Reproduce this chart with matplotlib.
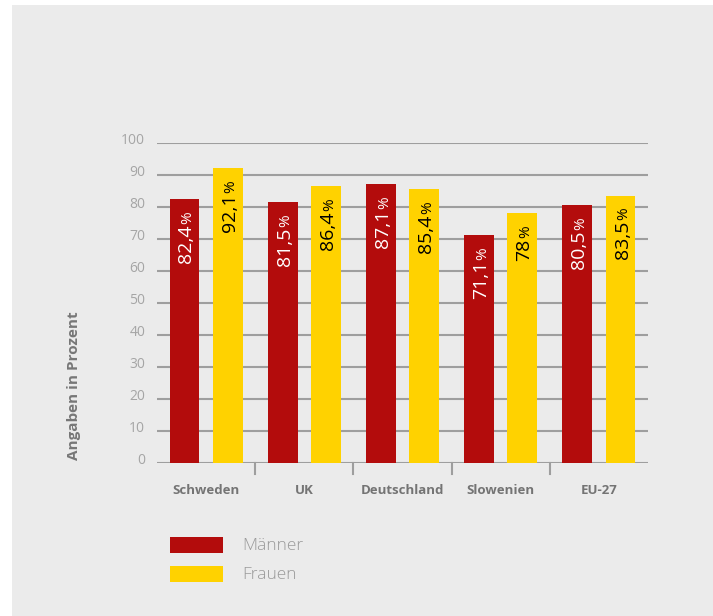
import matplotlib.pyplot as plt
import matplotlib.transforms as mtransforms
from matplotlib.patches import Rectangle
import numpy as np

countries = ["Schweden", "UK", "Deutschland", "Slowenien", "EU-27"]
maenner = [82.4, 81.5, 87.1, 71.1, 80.5]
frauen = [92.1, 86.4, 85.4, 78, 83.5]
series_names = ["Männer", "Frauen"]
yticks = [0, 10, 20, 30, 40, 50, 60, 70, 80, 90, 100]

RED = "#b30c0c"
YELLOW = "#ffd200"
BG = "#ebebeb"
FONT = "Open Sans"

plt.rcParams["font.family"] = [FONT, "DejaVu Sans"]

fig = plt.figure(figsize=(7.13, 6.16), dpi=100, facecolor="white")
# gray panel behind everything
fig.patches.append(Rectangle((12 / 713, 0), 1, 1 - 5 / 616, transform=fig.transFigure,
                             facecolor=BG, edgecolor="none", zorder=-10))

ax = fig.add_axes([157 / 713, 1 - 463 / 616, 491 / 713, (463 - 142.7) / 616])
ax.set_facecolor("none")
ax.set_xlim(0, len(countries))
ax.set_ylim(0, 100)

x = np.arange(len(countries)) + 0.5
w = 0.305
off = 0.22
ax.bar(x - off, maenner, width=w, color=RED, zorder=3)
ax.bar(x + off, frauen, width=w, color=YELLOW, zorder=3)

for v in yticks:
    ax.axhline(v, color="#9e9e9e", lw=1.5, zorder=1)

# separators between the country groups
for s in np.arange(1, len(countries)):
    ax.plot([s, s], [0, -0.034], transform=ax.get_xaxis_transform(), color="#9e9e9e",
            lw=1.5, clip_on=False)

for sp in ax.spines.values():
    sp.set_visible(False)
ax.set_xticks(x)
ax.set_xticklabels(countries, fontsize=9.5, fontweight="bold", color="#747474")
ax.tick_params(axis="x", length=0, pad=15)
ax.set_yticks(yticks)
ax.set_yticklabels([str(t) for t in yticks], fontsize=10, color="#a5a5a5")
ax.tick_params(axis="y", length=0, pad=8.5)
shift = mtransforms.ScaledTranslation(0, 4 / 100, fig.dpi_scale_trans)
for lab in ax.get_yticklabels():
    lab.set_transform(lab.get_transform() + shift)

# value labels inside the bars, with a smaller percent sign
def label_bar(xpos, val, color):
    txt = f"{val:g}".replace(".", ",")
    ax.annotate("%", xy=(xpos, val), xytext=(7 * 0.72, -12 * 0.72), textcoords="offset points",
                rotation=90, rotation_mode="anchor", ha="right", va="baseline",
                fontsize=11, color=color, zorder=4)
    ax.annotate(txt, xy=(xpos, val), xytext=(7 * 0.72, -25.5 * 0.72), textcoords="offset points",
                rotation=90, rotation_mode="anchor", ha="right", va="baseline",
                fontsize=14, color=color, zorder=4)

for xi, m, f in zip(x, maenner, frauen):
    label_bar(xi - off, m, "white")
    label_bar(xi + off, f, "black")

fig.text(74 / 713, 1 - 386 / 616, "Angaben in Prozent", rotation=90, ha="center", va="center",
         fontsize=11, fontweight="bold", color="#777777")

# legend
for i, (name, col) in enumerate(zip(series_names, [RED, YELLOW])):
    top = 537 + i * 29
    fig.patches.append(Rectangle((170 / 713, 1 - (top + 16) / 616), 53 / 713, 16 / 616,
                                 transform=fig.transFigure, facecolor=col, edgecolor="none"))
    fig.text(242 / 713, 1 - (top + 9) / 616, name, ha="left", va="center", fontsize=12.5,
             fontweight="light", color="#9a9a9a")

fig.savefig("out.png", dpi=100, facecolor=fig.get_facecolor())
